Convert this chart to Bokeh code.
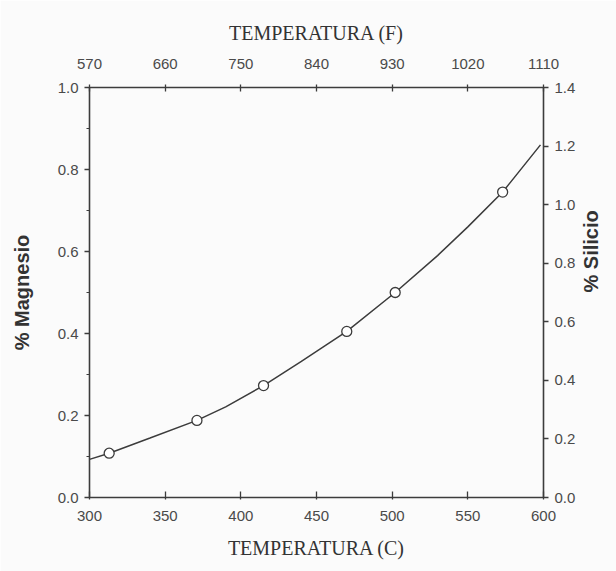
import math
from bokeh.plotting import figure
from bokeh.models import Range1d, LinearAxis, FixedTicker, PrintfTickFormatter
from bokeh.embed import file_html
from bokeh.resources import INLINE

# ---- data ----
temp_c = [313, 371, 415, 470, 502, 573]
mg_pct = [0.108, 0.188, 0.273, 0.405, 0.500, 0.745]
curve_c = [300, 313, 340, 371, 390, 415, 440, 470, 502, 530, 550, 573, 598]
curve_mg = [0.093, 0.108, 0.145, 0.188, 0.221, 0.273, 0.332, 0.405, 0.500, 0.590, 0.660, 0.745, 0.860]
c_ticks = [300, 350, 400, 450, 500, 550, 600]
f_ticks = [570, 660, 750, 840, 930, 1020, 1110]
mg_ticks = [0.0, 0.2, 0.4, 0.6, 0.8, 1.0]
si_ticks = [0.0, 0.2, 0.4, 0.6, 0.8, 1.0, 1.2, 1.4]

INK = "#3c3c3c"
TXT = "#4a4a4a"
BG = "#fbfbfb"

# frame geometry (canvas px)
FL, FR, FT, FB = 89, 545, 87, 497
W, H = 616, 571

p = figure(width=W, height=H, x_range=Range1d(300, 600), y_range=Range1d(0, 1.0),
           output_backend="svg", toolbar_location=None,
           min_border_left=FL, min_border_right=W - FR, min_border_top=FT, min_border_bottom=H - FB,
           background_fill_color=BG, border_fill_color=BG, outline_line_color=None)
p.grid.visible = False
p.extra_x_ranges = {"F": Range1d(570, 1110)}
p.extra_y_ranges = {"Si": Range1d(0, 1.4)}

def style(ax, ticks, fmt, tin, tout, standoff, minor=None):
    ax.ticker = FixedTicker(ticks=ticks, minor_ticks=minor or [])
    ax.formatter = PrintfTickFormatter(format=fmt)
    ax.axis_line_color = INK
    ax.axis_line_width = 1.6
    ax.major_tick_line_color = INK
    ax.major_tick_line_width = 1.3
    ax.minor_tick_line_color = INK
    ax.minor_tick_line_width = 1.0
    ax.major_tick_in = tin
    ax.major_tick_out = tout
    ax.minor_tick_in = 0
    ax.minor_tick_out = 3
    ax.major_label_standoff = standoff
    ax.major_label_text_font = "Liberation Sans"
    ax.major_label_text_font_size = "15px"
    ax.major_label_text_color = TXT
    ax.axis_label_text_color = "#333333"

def serif_label(ax, text, standoff):
    ax.axis_label = text
    ax.axis_label_text_font = "Liberation Serif"
    ax.axis_label_text_font_size = "20px"
    ax.axis_label_text_font_style = "normal"
    ax.axis_label_standoff = standoff

def bold_label(ax, text, standoff):
    ax.axis_label = text
    ax.axis_label_text_font = "Liberation Sans"
    ax.axis_label_text_font_size = "20px"
    ax.axis_label_text_font_style = "bold"
    ax.axis_label_standoff = standoff

bottom = p.xaxis[0]
left = p.yaxis[0]
style(bottom, c_ticks, "%d", 6, 2, 11)
serif_label(bottom, "TEMPERATURA (C)", 13)
style(left, mg_ticks, "%.1f", 0, 5, 6, minor=[0.1, 0.3, 0.5, 0.7, 0.9])
bold_label(left, "% Magnesio", 22)

top = LinearAxis(x_range_name="F")
style(top, f_ticks, "%d", 4, 3, 16)
serif_label(top, "TEMPERATURA (F)", 12)
p.add_layout(top, "above")

right = LinearAxis(y_range_name="Si")
style(right, si_ticks, "%.1f", 0, 5, 6)
bold_label(right, "% Silicio", 13)
right.axis_label_orientation = math.pi / 2
p.add_layout(right, "right")

# curve and points
p.line(curve_c, curve_mg, line_color=INK, line_width=1.5)
p.scatter(temp_c, mg_pct, marker="circle", size=10, fill_color="white",
          line_color=INK, line_width=1.3)

open("out.html", "w").write(file_html(p, INLINE))
